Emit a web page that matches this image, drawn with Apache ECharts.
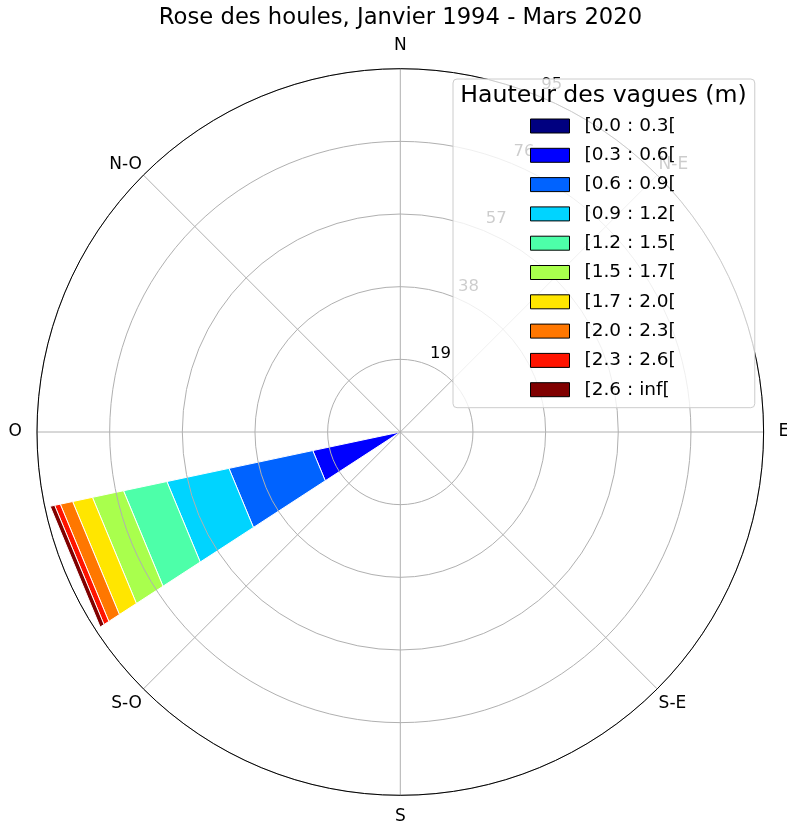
<!DOCTYPE html>
<html><head><meta charset="utf-8">
<script src="https://cdn.jsdelivr.net/npm/echarts/dist/echarts.min.js"></script>
<style>html,body{margin:0;padding:0;background:#fff}#c{width:787px;height:826px}</style>
</head><body><div id="c"></div>
<script>
// ---- data ----
const chartTitle = 'Rose des houles, Janvier 1994 - Mars 2020';
const legendTitle = 'Hauteur des vagues (m)';
const directions = ['N','NNE','NE','ENE','E','ESE','SE','SSE','S','SSO','SO','OSO','O','ONO','NO','NNO'];
const compassAngles = [0, 45, 90, 135, 180, 225, 270, 315];
const compassLabels = ['N', 'N-E', 'E', 'S-E', 'S', 'S-O', 'O', 'N-O'];
const radialTicks = [19, 38, 57, 76, 95];
const binLabels = ['[0.0 : 0.3[', '[0.3 : 0.6[', '[0.6 : 0.9[', '[0.9 : 1.2[', '[1.2 : 1.5[',
                   '[1.5 : 1.7[', '[1.7 : 2.0[', '[2.0 : 2.3[', '[2.3 : 2.6[', '[2.6 : inf['];
const binColors = ['#000080', '#0000ff', '#0063ff', '#00d4ff', '#4dffa9',
                   '#a9ff4d', '#ffe600', '#ff7700', '#ff1400', '#800000'];
const dominantDirection = 'OSO';
const freqOSO = [0, 23.4, 22.4, 16.6, 11.6, 8.3, 5.3, 3.3, 1.5, 1.2];

// ---- chart ----
const FONT = 'DejaVu Sans';
const CX = 400.3, CY = 432, R = 363.3;
const richKeys = ['n', 'ne', 'e', 'se', 's', 'sw', 'w', 'nw'];
const sectorStep = 360 / directions.length;
const halfWidth = sectorStep * 0.935 / 2;

// frequency table: one row per direction, one column per wave-height bin
const table = directions.map(d => d === dominantDirection ? freqOSO.slice() : freqOSO.map(() => 0));

const series = binLabels.map((name, i) => {
  const data = [];
  directions.forEach((d, k) => {
    const v = table[k][i];
    if (v > 0) {
      let start = 0;
      for (let j = 0; j < i; j++) start += table[k][j];
      data.push([k * sectorStep, start, start + v]);
    }
  });
  return {
    name: name,
    type: 'custom',
    coordinateSystem: 'polar',
    polarIndex: 1,
    z: 2,
    itemStyle: { color: binColors[i] },
    data: data,
    renderItem: (params, api) => {
      const a = api.value(0), r0 = api.value(1), r1 = api.value(2);
      const pts = [
        api.coord([r0, a - halfWidth]), api.coord([r1, a - halfWidth]),
        api.coord([r1, a + halfWidth]), api.coord([r0, a + halfWidth])
      ];
      return { type: 'polygon', shape: { points: pts },
               style: { fill: binColors[i], stroke: '#ffffff', lineWidth: 1 } };
    }
  };
});

const option = {
  animation: false,
  backgroundColor: '#ffffff',
  title: [
    { text: chartTitle, left: 400.5, top: 7, textAlign: 'center', textVerticalAlign: 'top', padding: 0,
      textStyle: { fontFamily: FONT, fontSize: 22.7, fontWeight: 'normal', color: '#000' } },
    { text: legendTitle, left: 603.5, top: 83.5, textAlign: 'center', textVerticalAlign: 'top', padding: 0, z: 10,
      textStyle: { fontFamily: FONT, fontSize: 23.6, fontWeight: 'normal', color: '#000' } }
  ],
  legend: {
    orient: 'vertical', left: 453, top: 79, padding: [37, 79, 8, 77],
    itemWidth: 39, itemHeight: 14, itemGap: 9.3, icon: 'rect', selectedMode: false,
    itemStyle: { borderColor: '#000', borderWidth: 1 },
    textStyle: { fontFamily: FONT, fontSize: 18.5, color: '#000', lineHeight: 20, padding: [0, 0, 0, 10] },
    backgroundColor: 'rgba(255,255,255,0.8)', borderColor: '#cccccc', borderWidth: 1, borderRadius: 4,
    z: 5
  },
  polar: [
    { center: [CX, CY], radius: R },
    { center: [CX, CY], radius: R },
    { center: [CX, CY], radius: R }
  ],
  angleAxis: [
    { polarIndex: 0, type: 'value', min: 0, max: 360, interval: 45, startAngle: 90, clockwise: true, z: 3,
      axisLine: { show: true, lineStyle: { color: '#000', width: 1 } },
      axisTick: { show: false },
      splitLine: { show: true, lineStyle: { color: '#b0b0b0', width: 1 } },
      axisLabel: {
        margin: 2, color: '#000', fontFamily: FONT, fontSize: 17,
        formatter: v => {
          const i = compassAngles.indexOf(v);
          return i < 0 ? '' : '{' + richKeys[i] + '|' + compassLabels[i] + '}';
        },
        rich: {
          n: { padding: [0, 0, 13, 0] }, s: { padding: [11, 0, 0, 0] },
          e: { padding: [0, 0, 0, 13] }, w: { padding: [0, 13, 0, 0] },
          ne: { padding: [0, 0, 1, 0] }, nw: { padding: [0, 0, 1, 0] },
          se: { padding: [5, 0, 0, 0] }, sw: { padding: [5, 0, 0, 0] }
        }
      }
    },
    { polarIndex: 1, type: 'value', min: 0, max: 360, startAngle: 90, clockwise: true,
      axisLine: { show: false }, axisTick: { show: false }, axisLabel: { show: false }, splitLine: { show: false } },
    { polarIndex: 2, type: 'value', min: 0, max: 360, startAngle: 67.5, clockwise: true, z: 3,
      axisLine: { show: false }, axisTick: { show: false }, axisLabel: { show: false }, splitLine: { show: false } }
  ],
  radiusAxis: [
    { polarIndex: 0, type: 'value', min: 0, max: radialTicks[radialTicks.length - 1], interval: radialTicks[0], z: 3,
      axisLine: { show: false }, axisTick: { show: false }, axisLabel: { show: false },
      splitLine: { show: true, lineStyle: { color: '#b0b0b0', width: 1 } } },
    { polarIndex: 1, type: 'value', min: 0, max: radialTicks[radialTicks.length - 1],
      axisLine: { show: false }, axisTick: { show: false }, axisLabel: { show: false }, splitLine: { show: false } },
    { polarIndex: 2, type: 'value', min: 0, max: radialTicks[radialTicks.length - 1], interval: radialTicks[0], z: 3,
      axisLine: { show: false }, axisTick: { show: false }, splitLine: { show: false },
      axisLabel: { show: true, margin: 0, align: 'left', verticalAlign: 'bottom', padding: [0, 0, 3, 2],
        color: '#000', fontFamily: FONT, fontSize: 16.5,
        formatter: v => (v === 0 ? '' : String(v)) } }
  ],
  series: series
};

const chart = echarts.init(document.getElementById('c'), null, { renderer: 'canvas' });
chart.setOption(option);
</script>
</body></html>
